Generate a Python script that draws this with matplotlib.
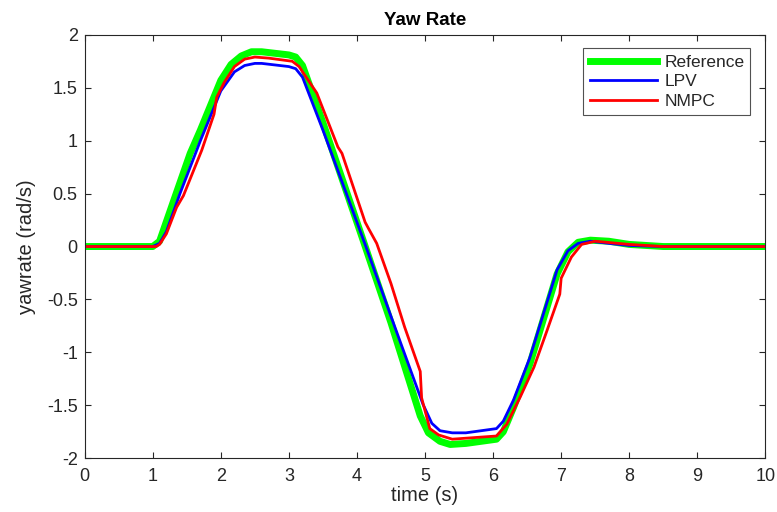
import numpy as np
import matplotlib.pyplot as plt

plt.rcParams['font.family'] = ['Liberation Sans', 'DejaVu Sans']
plt.rcParams['axes.unicode_minus'] = False
txt = '#262626'

# Reference yaw rate
t_ref = [0, 1.0, 1.1, 1.3, 1.55, 1.7, 2.0, 2.15, 2.3, 2.45, 2.6, 3.0, 3.1, 3.2, 3.5,
         4.09, 4.5, 4.93, 5.05, 5.22, 5.37, 5.6, 6.05, 6.15, 6.3, 6.54, 6.94, 7.1,
         7.25, 7.43, 7.7, 8.0, 8.5, 10]
y_ref = [0, 0, 0.05, 0.42, 0.88, 1.1, 1.57, 1.72, 1.8, 1.84, 1.84, 1.81, 1.79, 1.71, 1.17,
         0.06, -0.72, -1.6, -1.76, -1.84, -1.87, -1.86, -1.82, -1.75, -1.52, -1.11, -0.26, -0.05,
         0.04, 0.06, 0.05, 0.02, 0.0, 0.0]

# LPV
t_lpv = [0, 1.0, 1.1, 1.2, 1.4, 1.7, 2.0, 2.2, 2.35, 2.5, 2.6, 3.0, 3.1, 3.2, 3.5,
         4.12, 4.5, 4.97, 5.1, 5.22, 5.4, 5.6, 6.05, 6.15, 6.3, 6.54, 6.94, 7.1,
         7.25, 7.43, 7.7, 8.0, 8.5, 10]
y_lpv = [0, 0, 0.03, 0.14, 0.5, 1.0, 1.47, 1.65, 1.71, 1.73, 1.73, 1.7, 1.68, 1.6, 1.1,
         0.02, -0.66, -1.49, -1.67, -1.74, -1.76, -1.76, -1.72, -1.65, -1.45, -1.05, -0.22, -0.04,
         0.03, 0.05, 0.03, 0.01, 0.0, 0.0]

# NMPC
t_nmpc = [0, 1.05, 1.1, 1.2, 1.35, 1.45, 1.72, 1.9, 1.94, 2.05, 2.2, 2.35, 2.5, 2.7, 3.05, 3.15,
          3.41, 3.72, 3.78, 4.12, 4.17, 4.29, 4.5, 4.7, 4.93, 4.95, 5.07, 5.2, 5.4,
          6.05, 6.2, 6.4, 6.6, 6.8, 6.98, 7.0, 7.15, 7.3, 7.5, 8.0, 8.5, 10]
y_nmpc = [0, 0, 0.02, 0.12, 0.37, 0.48, 0.91, 1.25, 1.41, 1.55, 1.7, 1.77, 1.79, 1.78, 1.75, 1.7,
          1.45, 0.94, 0.88, 0.23, 0.17, 0.03, -0.35, -0.76, -1.18, -1.43, -1.72, -1.78, -1.82,
          -1.79, -1.68, -1.42, -1.14, -0.78, -0.45, -0.3, -0.1, 0.02, 0.05, 0.02, 0.0, 0.0]

fig = plt.figure(figsize=(7.77, 5.12), dpi=100)
ax = fig.add_axes([0.109, 0.105, 0.876, 0.827])

ax.plot(t_ref, y_ref, color='#00ff00', lw=5, label='Reference')
ax.plot(t_lpv, y_lpv, color='#0000ff', lw=2, label='LPV')
ax.plot(t_nmpc, y_nmpc, color='#ff0000', lw=2, label='NMPC')

ax.set_xlim(0, 10)
ax.set_ylim(-2, 2)
ax.set_xticks(np.arange(0, 11, 1))
ax.set_yticks(np.arange(-2, 2.01, 0.5))
ax.set_yticklabels(['-2', '-1.5', '-1', '-0.5', '0', '0.5', '1', '1.5', '2'])
ax.tick_params(direction='in', top=True, right=True, labelsize=13, length=4,
               color=txt, labelcolor=txt)
ax.tick_params(axis='x', pad=7)
ax.tick_params(axis='y', pad=5)
for s in ax.spines.values():
    s.set_color(txt)
    s.set_linewidth(0.8)

ax.set_title('Yaw Rate', fontsize=13.5, fontweight='bold', color='black', pad=7)
ax.set_xlabel('time (s)', fontsize=14.5, labelpad=1, color=txt)
ax.set_ylabel('yawrate (rad/s)', fontsize=14.5, labelpad=8, color=txt)

leg = ax.legend(loc='upper right', fontsize=12.5, fancybox=False, edgecolor=txt,
                handlelength=3.9, borderpad=0.35, labelspacing=0.25, handletextpad=0.4,
                borderaxespad=0, bbox_to_anchor=(0.978, 0.968))
leg.get_frame().set_linewidth(0.8)
for t in leg.get_texts():
    t.set_color(txt)

fig.savefig('out.png', dpi=100)
